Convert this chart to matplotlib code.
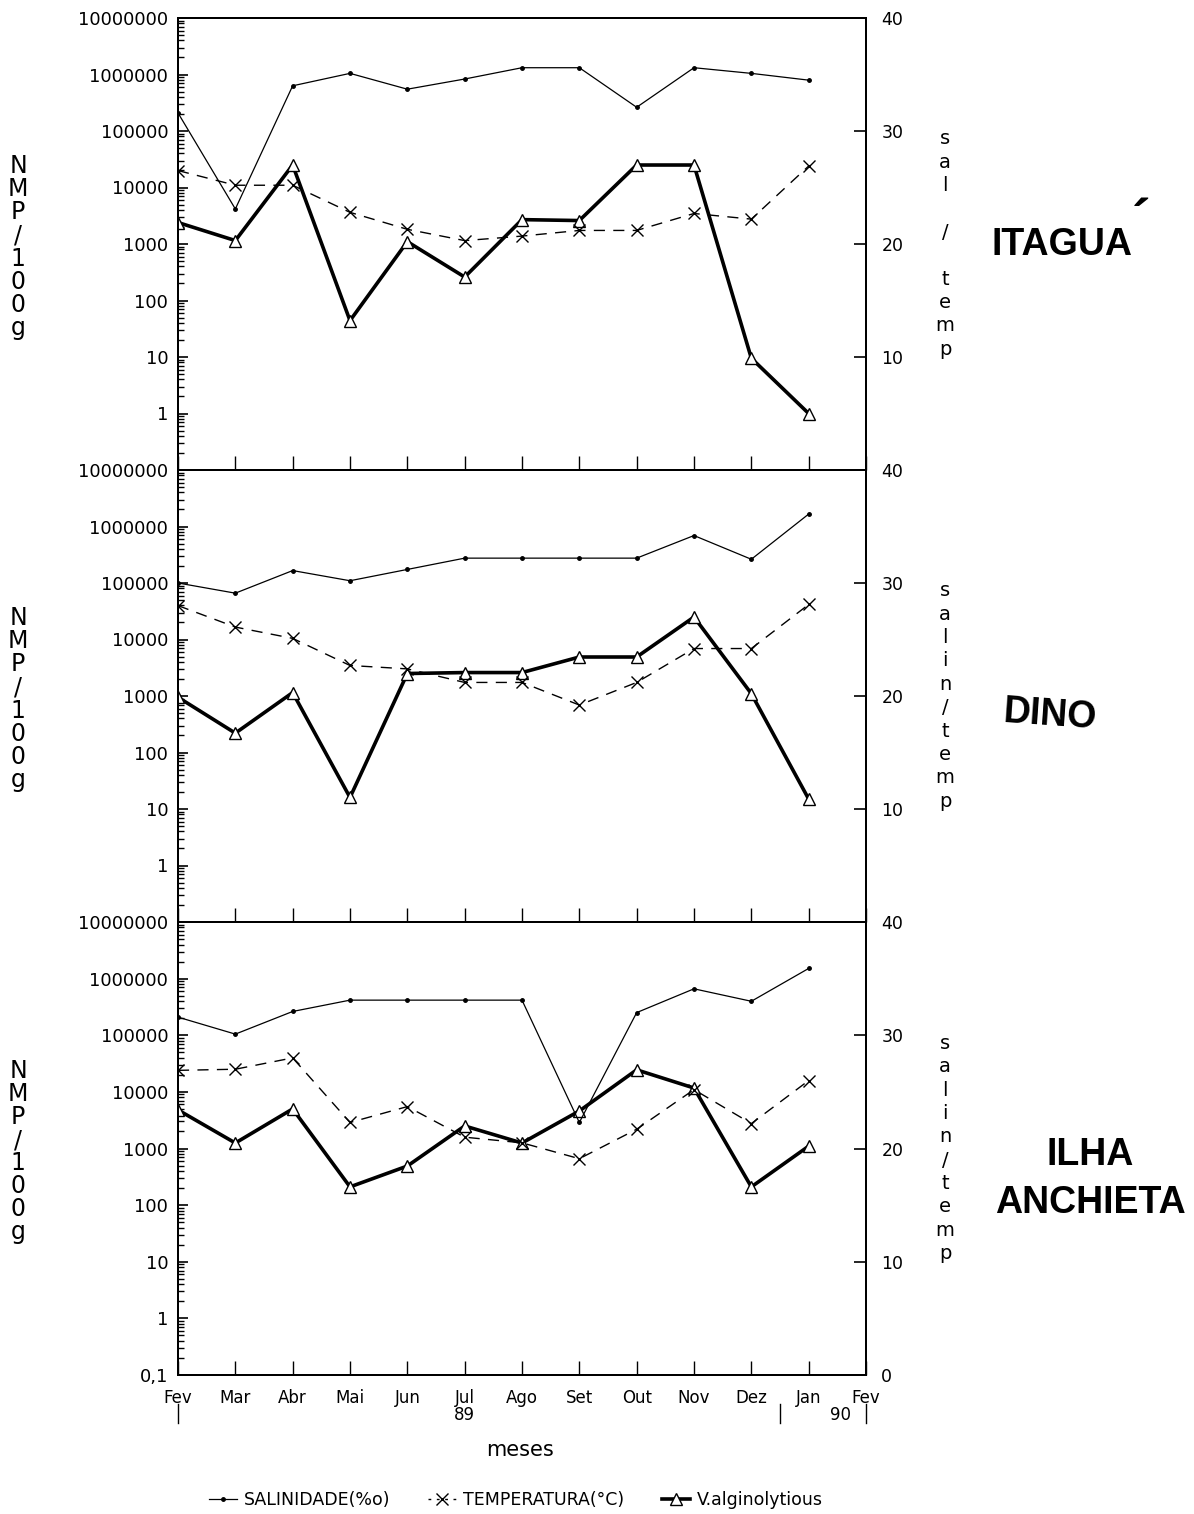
import numpy as np
import matplotlib
matplotlib.use("Agg")
import matplotlib.pyplot as plt
from matplotlib.ticker import LogLocator, FuncFormatter, NullFormatter
from matplotlib.lines import Line2D

# months (Fev 1989 .. Jan 1990) and x tick labels
months = ["Fev", "Mar", "Abr", "Mai", "Jun", "Jul", "Ago", "Set", "Out", "Nov", "Dez", "Jan"]
xlabels = months + ["Fev"]

# ITAGUA
sal_itagua = [31.6, 23.1, 34.0, 35.1, 33.7, 34.6, 35.6, 35.6, 32.1, 35.6, 35.1, 34.5]
temp_itagua = [26.5, 25.2, 25.2, 22.8, 21.3, 20.3, 20.7, 21.2, 21.2, 22.7, 22.2, 26.9]
vib_itagua = [2400, 1150, 25000, 44, 1100, 260, 2700, 2600, 25000, 25000, 9.5, 1.0]

# DINO
sal_dino = [30.0, 29.1, 31.1, 30.2, 31.2, 32.2, 32.2, 32.2, 32.2, 34.2, 32.1, 36.1]
temp_dino = [28.0, 26.1, 25.1, 22.7, 22.4, 21.2, 21.2, 19.2, 21.2, 24.2, 24.2, 28.1]
vib_dino = [950, 220, 1150, 16, 2500, 2600, 2600, 4900, 4900, 25000, 1100, 15]

# ILHA ANCHIETA
sal_anch = [31.6, 30.1, 32.1, 33.1, 33.1, 33.1, 33.1, 22.3, 32.0, 34.1, 33.0, 35.9]
temp_anch = [26.9, 27.0, 28.0, 22.3, 23.7, 21.0, 20.5, 19.1, 21.7, 25.2, 22.2, 26.0]
vib_anch = [4800, 1250, 5000, 210, 490, 2500, 1250, 4600, 24500, 11700, 210, 1100]

panels = [
    (sal_itagua, temp_itagua, vib_itagua, "sal / temp"),
    (sal_dino, temp_dino, vib_dino, "salin/temp"),
    (sal_anch, temp_anch, vib_anch, "salin/temp"),
]

plt.rcParams["font.family"] = ["DejaVu Sans"]

W, H = 1194, 1514
fig = plt.figure(figsize=(W / 100, H / 100), dpi=100)

left, right = 178 / W, 866 / W
tops = [18, 470, 922]
bots = [470, 922, 1375]

x = np.arange(len(months))
axes = []
for i, (sal, temp, vib, rlab) in enumerate(panels):
    y0 = 1 - bots[i] / H
    h = (bots[i] - tops[i]) / H
    ax = fig.add_axes([left, y0, right - left, h])
    ax2 = ax.twinx()
    axes.append(ax)

    ax.plot(x, vib, color="black", lw=2.6, marker="^", ms=9,
            mfc="white", mec="black", mew=1.0, zorder=3)
    ax2.plot(x, sal, color="black", lw=0.9, marker="o", ms=2.5)
    ax2.plot(x, temp, color="black", lw=1.0, dashes=(8, 6), marker="x",
             ms=8.5, mew=1.0)

    ax.set_yscale("log")
    ax.set_ylim(0.1, 1e7)
    ax.set_xlim(0, 12)
    ax2.set_ylim(0, 40)

    ax.yaxis.set_major_locator(LogLocator(base=10, numticks=20))
    ax.yaxis.set_minor_locator(LogLocator(base=10, subs=np.arange(2, 10), numticks=20))
    ax.yaxis.set_minor_formatter(NullFormatter())
    last = i == 2

    def fmt(v, pos, last=last):
        if v < 1:
            return "0,1" if last else ""
        return "%d" % round(v)

    ax.yaxis.set_major_formatter(FuncFormatter(fmt))
    ax.tick_params(axis="y", which="major", direction="in", length=7, width=1.2,
                   labelsize=13, pad=7)
    ax.tick_params(axis="y", which="minor", direction="in", length=4, width=1.0)

    ax2.set_yticks([0, 10, 20, 30, 40])
    ax2.set_yticklabels(["0" if last else "", "10", "20", "30", "40"])
    ax2.tick_params(axis="y", direction="in", length=9, width=1.2,
                    labelsize=12.5, pad=11)

    ax.set_xticks(np.arange(13))
    ax.tick_params(axis="x", direction="in", length=10, width=1.0,
                   top=False, labelsize=12, pad=10)
    if last:
        ax.set_xticklabels(xlabels)
    else:
        ax.set_xticklabels([])

    for a in (ax, ax2):
        for s in a.spines.values():
            s.set_linewidth(1.4)

    # left stacked label
    yc = 1 - (tops[i] + bots[i]) / 2 / H
    fig.text(18 / W, yc - 0.002, "\n".join("NMP/100g"), ha="center", va="center",
             fontsize=17, linespacing=0.95)
    # right stacked label
    fig.text(945 / W, yc, "\n".join(rlab), ha="center", va="center",
             fontsize=14, linespacing=1.29)

# site names
fig.text(1062 / W, 1 - 245 / H, "ITAGUA", ha="center", va="center",
         fontsize=27, fontweight="bold", family=["Liberation Sans"])
fig.text(1141 / W, 1 - 224 / H, "\u00b4", ha="center", va="center",
         fontsize=40, fontweight="bold", family=["Liberation Sans"])
fig.text(1050 / W, 1 - 715 / H, "DINO", ha="center", va="center",
         fontsize=27, fontweight="bold", family=["Liberation Sans"], rotation=-4)
fig.text(1090 / W, 1 - 1179 / H, "ILHA\nANCHIETA", ha="center", va="center",
         fontsize=27, fontweight="bold", family=["Liberation Sans"],
         multialignment="center", linespacing=1.42)

# year markers under the bottom axis
axb = axes[-1]
tr = axb.get_xaxis_transform()
for xv in [0, 10.5, 12]:
    axb.plot([xv, xv], [-0.064, -0.106], color="black", lw=1.0,
             transform=tr, clip_on=False)
axb.text(5, -0.089, "89", transform=tr, ha="center", va="center", fontsize=12)
axb.text(11.55, -0.089, "90", transform=tr, ha="center", va="center", fontsize=12)

fig.text(520 / W, 1 - 1450 / H, "meses", ha="center", va="center", fontsize=15)

handles = [
    Line2D([], [], color="black", lw=0.9, marker="o", ms=2.5),
    Line2D([], [], color="black", lw=1.0, dashes=(2, 4), marker="x", ms=8, mew=1.0),
    Line2D([], [], color="black", lw=2.6, marker="^", ms=8, mfc="white", mec="black"),
]
labels = ["SALINIDADE(%o)", "TEMPERATURA(\u00b0C)", "V.alginolytious"]
fig.legend(handles, labels, loc="center", bbox_to_anchor=(516 / W, 1 - 1500 / H),
           ncol=3, frameon=False, fontsize=12.5, handlelength=1.6,
           columnspacing=2.2, handletextpad=0.4, borderpad=0.0)

fig.savefig("out.png", dpi=100)
